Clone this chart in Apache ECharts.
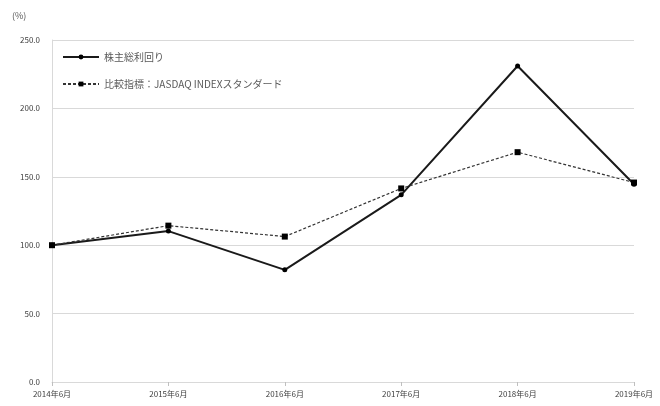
<!DOCTYPE html>
<html><head><meta charset="utf-8">
<script src="https://cdn.jsdelivr.net/npm/echarts@6/dist/echarts.min.js"></script>
<style>html,body{margin:0;padding:0;background:#fff}#c{width:660px;height:406px}</style>
</head><body><div id="c"></div>
<script>
const categories = ['2014年6月','2015年6月','2016年6月','2017年6月','2018年6月','2019年6月'];
const tsr = [100.0, 110.3, 82.0, 136.8, 231.0, 144.5];
const benchmark = [100.0, 114.3, 106.3, 141.5, 168.0, 145.8];
const seriesNames = ['株主総利回り','比較指標：JASDAQ INDEXスタンダード'];
const font = '"Noto Sans CJK JP", "Noto Sans", sans-serif';
const chart = echarts.init(document.getElementById('c'));
chart.setOption({
  animation:false,
  textStyle:{fontFamily:font},
  graphic:[{type:'text',left:12,top:11,style:{text:'(%)',fill:'#595959',font:'9px '+font}}],
  legend:{
    orient:'vertical',left:57,top:47,itemGap:17,itemWidth:36,itemHeight:6,
    textStyle:{color:'#595959',fontSize:10,fontFamily:font},
    data:[seriesNames[0],seriesNames[1]]
  },
  grid:{left:52,right:26,top:40,bottom:24,containLabel:false},
  xAxis:{
    type:'category',data:categories,boundaryGap:false,
    axisLine:{lineStyle:{color:'#d9d9d9'}},
    axisTick:{show:true,length:4,lineStyle:{color:'#bfbfbf'}},
    axisLabel:{color:'#404040',fontSize:8,margin:8,interval:0}
  },
  yAxis:{
    type:'value',min:0,max:250,interval:50,
    axisLine:{show:true,lineStyle:{color:'#d9d9d9'}},
    axisTick:{show:false},
    splitLine:{lineStyle:{color:'#d9d9d9'}},
    axisLabel:{color:'#404040',fontSize:8,margin:12,formatter:v=>v.toFixed(1)}
  },
  series:[
    {name:seriesNames[0],type:'line',data:tsr,symbol:'circle',symbolSize:5,
     lineStyle:{color:'#1a1a1a',width:2},itemStyle:{color:'#000'}},
    {name:seriesNames[1],type:'line',data:benchmark,symbol:'rect',symbolSize:6,
     lineStyle:{color:'#333',width:1.2,type:[3,2]},itemStyle:{color:'#000'}}
  ]
});
</script></body></html>
